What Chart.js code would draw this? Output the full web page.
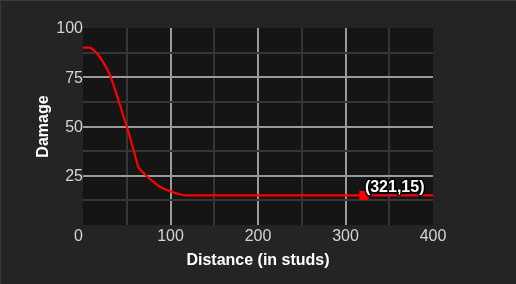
<!DOCTYPE html>
<html>
<head>
<meta charset="utf-8">
<script src="https://cdn.jsdelivr.net/npm/chart.js@4.4.1/dist/chart.umd.min.js"></script>
<style>
  html, body { margin: 0; padding: 0; background: #242424; }
  #wrap { width: 516px; height: 284px; box-sizing: border-box; border-top: 1px solid #3a3a3a; border-left: 1px solid #3a3a3a; }
</style>
</head>
<body>
<div id="wrap"><canvas id="damage-chart" width="515" height="283"></canvas></div>
<script>
// damage falloff
let distance = [0, 5, 8, 10, 15, 20, 25, 30, 35, 40, 45, 50, 55, 60, 63, 65, 70, 75, 80, 85, 90, 95, 100, 105, 110, 115, 120, 200, 300, 321, 400];
let damage   = [90, 90, 90, 89.6, 87.6, 84.8, 81.2, 77, 71, 64, 57, 50, 42.5, 34.5, 29.6, 28.3, 26, 24, 22.1, 20.3, 18.9, 17.9, 17.1, 16.3, 15.6, 15.1, 15, 15, 15, 15, 15];
let marker = { x: 321, y: 15 };
let xTicks = [0, 100, 200, 300, 400];
let yTicks = [25, 50, 75, 100];

const FONT = 'Arial, "Liberation Sans", sans-serif';
const LEFT = 82, TOP = 27, RIGHT = 83, BOTTOM = 59;

let plotBg = {
    id: 'plotBg',
    beforeDraw(chart) {
        let a = chart.chartArea, ctx = chart.ctx;
        ctx.save();
        ctx.fillStyle = '#151515';
        ctx.fillRect(a.left, a.top, a.right - a.left, a.bottom - a.top);
        ctx.restore();
    }
};

let pointLabel = {
    id: 'pointLabel',
    afterDatasetsDraw(chart) {
        let ctx = chart.ctx;
        let px = chart.scales.x.getPixelForValue(marker.x);
        let py = chart.scales.y.getPixelForValue(marker.y);
        let txt = '(' + marker.x + ',' + marker.y + ')';
        ctx.save();
        ctx.font = 'bold 16px ' + FONT;
        ctx.textAlign = 'left';
        ctx.textBaseline = 'alphabetic';
        ctx.lineWidth = 3;
        ctx.strokeStyle = '#000';
        ctx.lineJoin = 'round';
        ctx.strokeText(txt, px + 1, py - 3);
        ctx.fillStyle = '#fff';
        ctx.fillText(txt, px + 1, py - 3);
        ctx.restore();
    }
};

function gridColor(ctx, max) {
    let v = ctx.tick ? ctx.tick.value : null;
    if (v === null || v === 0 || v === max) return 'rgba(0,0,0,0)';
    return (v % (max / 4) === 0) ? '#9a9a9a' : '#363636';
}

new Chart(document.getElementById('damage-chart'), {
    type: 'line',
    data: {
        datasets: [
            {
                data: distance.map((d, i) => ({ x: d, y: damage[i] })),
                borderColor: '#ff0000',
                borderWidth: 2.2,
                pointRadius: 0,
                tension: 0
            },
            {
                data: [marker],
                showLine: false,
                pointStyle: 'rect',
                pointRadius: 6.5,
                backgroundColor: '#ff0000',
                borderWidth: 0
            }
        ]
    },
    options: {
        responsive: false,
        animation: false,
        layout: { padding: { left: 0, top: TOP, right: RIGHT, bottom: 0 } },
        plugins: { legend: { display: false }, tooltip: { enabled: false } },
        scales: {
            x: {
                type: 'linear',
                min: 0, max: 400,
                afterFit(s) { s.height = BOTTOM; },
                ticks: {
                    stepSize: 50,
                    padding: 2,
                    color: '#d4d4d4',
                    font: { family: FONT, size: 16 },
                    maxRotation: 0,
                    autoSkip: false,
                    callback: v => v === 0 ? '0  ' : (xTicks.includes(v) ? String(v) : '')
                },
                grid: { color: c => gridColor(c, 400), lineWidth: 2, drawTicks: false },
                border: { display: false },
                title: {
                    display: true,
                    text: 'Distance (in studs)',
                    color: '#ffffff',
                    font: { family: FONT, size: 16, weight: 'bold' },
                    padding: { top: 0, bottom: 14 }
                }
            },
            y: {
                min: 0, max: 100,
                afterFit(s) { s.width = LEFT; },
                ticks: {
                    stepSize: 12.5,
                    padding: 0,
                    labelOffset: 1,
                    color: '#d4d4d4',
                    font: { family: FONT, size: 16 },
                    autoSkip: false,
                    callback: v => yTicks.includes(v) ? String(v) : ''
                },
                grid: { color: c => gridColor(c, 100), lineWidth: 2, drawTicks: false },
                border: { display: false },
                title: {
                    display: true,
                    text: 'Damage',
                    color: '#ffffff',
                    font: { family: FONT, size: 16, weight: 'bold' },
                    padding: { top: 33, bottom: 0 }
                }
            }
        }
    },
    plugins: [plotBg, pointLabel]
});
</script>
</body>
</html>
